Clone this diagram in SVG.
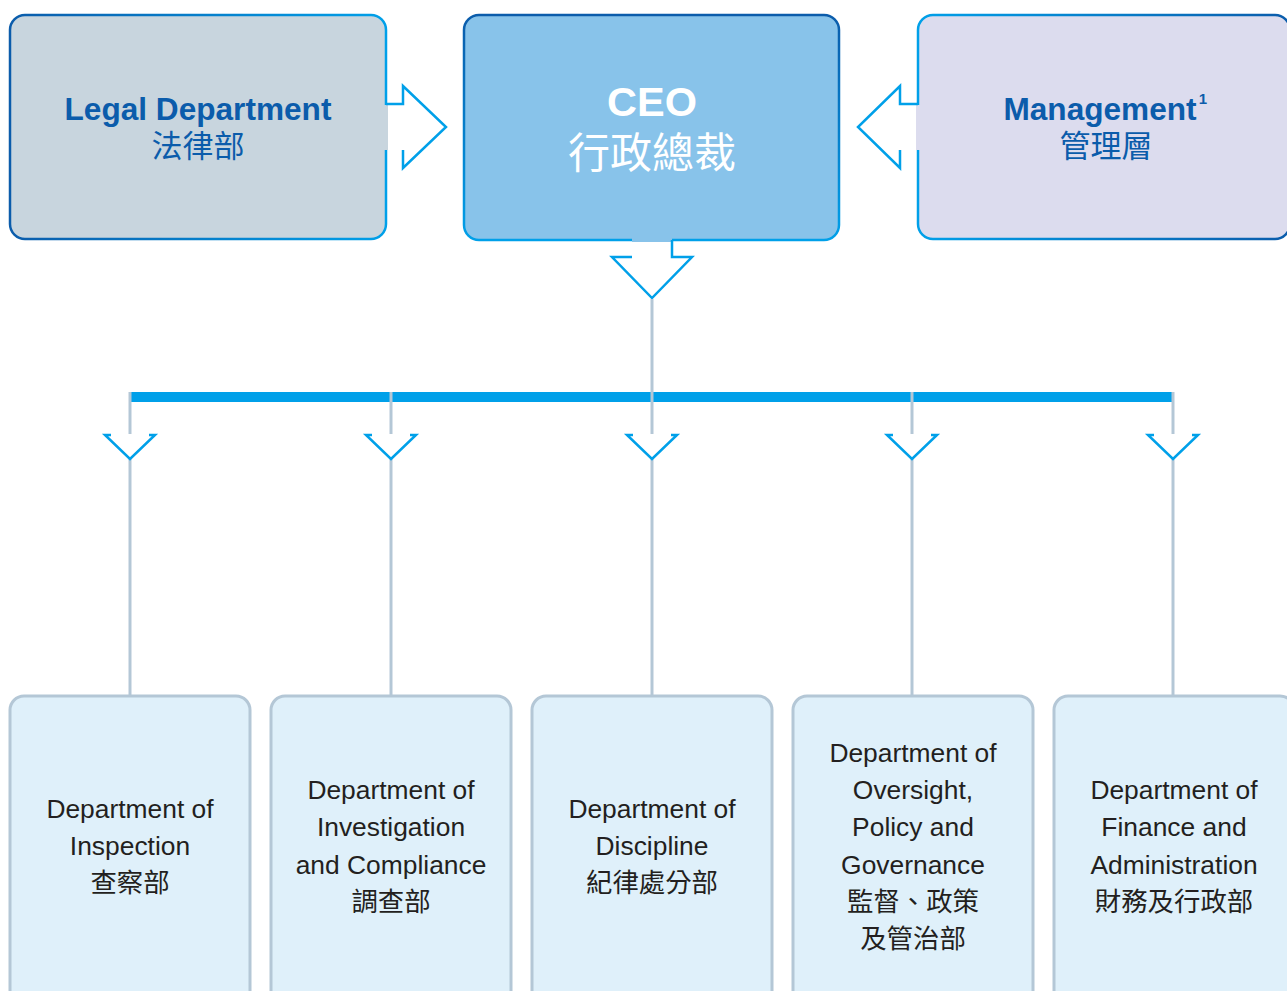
<svg xmlns="http://www.w3.org/2000/svg" width="1287" height="991" viewBox="0 0 1287 991">
<defs>
<linearGradient id="gLegal" x1="0" y1="0" x2="1" y2="0"><stop offset="0" stop-color="#0b5cab"/><stop offset="1" stop-color="#00a0e9"/></linearGradient>
<linearGradient id="gCeo" x1="0" y1="0" x2="0" y2="1"><stop offset="0" stop-color="#0b5cab"/><stop offset="1" stop-color="#00a0e9"/></linearGradient>
<linearGradient id="gMgmt" x1="0" y1="0" x2="1" y2="0"><stop offset="0" stop-color="#00a0e9"/><stop offset="1" stop-color="#0b5cab"/></linearGradient>
</defs>
<style>
.arrow{fill:none;stroke:#00a0e9;stroke-width:2.5;stroke-linejoin:miter}
.conn{fill:none;stroke:#b4c7d6;stroke-width:3}
.dept{fill:#dff0fa;stroke:#b4c7d6;stroke-width:3}
.dt{font-family:"Liberation Sans",Arial,"Noto Sans CJK TC",sans-serif;font-size:26.4px;fill:#231f20;text-anchor:middle}
.ht{font-family:"Liberation Sans",Arial,"Noto Sans CJK TC",sans-serif;font-weight:bold;font-size:31.6px;fill:#0b5cab;text-anchor:middle}
.hc{font-family:"Liberation Sans",Arial,"Noto Sans CJK TC",sans-serif;font-size:31px;fill:#0b5cab;text-anchor:middle}
</style>
<rect width="1287" height="991" fill="#ffffff"/>

<g id="legal">
<rect x="10" y="15" width="376" height="224" rx="15" fill="#c8d5de" stroke="url(#gLegal)" stroke-width="2.5"/>
<rect x="384" y="105" width="4" height="45" fill="#c8d5de"/>
<text class="ht" x="198" y="120">Legal Department</text>
<text class="hc" x="198" y="157">法律部</text>
</g>

<g id="ceo">
<rect x="464" y="15" width="375" height="225" rx="15" fill="#88c3ea" stroke="url(#gCeo)" stroke-width="2.5"/>
<rect x="632" y="238" width="40" height="4" fill="#88c3ea"/>
<text x="652" y="116" font-family="'Liberation Sans',Arial,sans-serif" font-weight="bold" font-size="41.5" fill="#ffffff" text-anchor="middle">CEO</text>
<text x="652" y="168" font-family="'Liberation Sans','Noto Sans CJK TC',sans-serif" font-size="42" fill="#ffffff" text-anchor="middle">行政總裁</text>
</g>

<g id="management">
<rect x="918" y="15" width="372" height="224" rx="15" fill="#dcdcee" stroke="url(#gMgmt)" stroke-width="2.5"/>
<rect x="916" y="105" width="4" height="45" fill="#dcdcee"/>
<text class="ht" x="1100" y="120">Management</text>
<text x="1203" y="104" font-family="'Liberation Sans',Arial,sans-serif" font-weight="bold" font-size="15" fill="#0b5cab" text-anchor="middle">1</text>
<text class="hc" x="1106" y="157">管理層</text>
</g>

<g id="connectors">
<polyline class="arrow" points="386,104 403,104 403,86 446,127 403,168 403,150"/>
<polyline class="arrow" points="918,104 900,104 900,86 858,127 900,168 900,150"/>
<polyline class="arrow" points="672,240 672,257 692,257 652,298 612,257 632,257"/>
<line class="conn" x1="652" y1="299" x2="652" y2="394"/>
<rect x="131" y="392" width="1042" height="10" fill="#00a0e9"/>
<line class="conn" x1="130" y1="392" x2="130" y2="434"/>
<line class="conn" x1="391" y1="392" x2="391" y2="434"/>
<line class="conn" x1="652" y1="392" x2="652" y2="434"/>
<line class="conn" x1="912" y1="392" x2="912" y2="434"/>
<line class="conn" x1="1173" y1="392" x2="1173" y2="434"/>
<line class="conn" x1="130" y1="459" x2="130" y2="696"/>
<line class="conn" x1="391" y1="459" x2="391" y2="696"/>
<line class="conn" x1="652" y1="459" x2="652" y2="696"/>
<line class="conn" x1="912" y1="459" x2="912" y2="696"/>
<line class="conn" x1="1173" y1="459" x2="1173" y2="696"/>
<polyline class="arrow" points="111,435 105,435 130,459 155,435 149,435"/>
<polyline class="arrow" points="372,435 366,435 391,459 416,435 410,435"/>
<polyline class="arrow" points="633,435 627,435 652,459 677,435 671,435"/>
<polyline class="arrow" points="893,435 887,435 912,459 937,435 931,435"/>
<polyline class="arrow" points="1154,435 1148,435 1173,459 1198,435 1192,435"/>
</g>

<g id="dept-inspection">
<rect class="dept" x="10" y="696" width="240" height="310" rx="14"/>
<text class="dt" x="130" y="818">Department of</text>
<text class="dt" x="130" y="855">Inspection</text>
<text class="dt" x="130" y="892">查察部</text>
</g>
<g id="dept-investigation">
<rect class="dept" x="271" y="696" width="240" height="310" rx="14"/>
<text class="dt" x="391" y="799">Department of</text>
<text class="dt" x="391" y="836">Investigation</text>
<text class="dt" x="391" y="874">and Compliance</text>
<text class="dt" x="391" y="911">調查部</text>
</g>
<g id="dept-discipline">
<rect class="dept" x="532" y="696" width="240" height="310" rx="14"/>
<text class="dt" x="652" y="818">Department of</text>
<text class="dt" x="652" y="855">Discipline</text>
<text class="dt" x="652" y="892">紀律處分部</text>
</g>
<g id="dept-oversight">
<rect class="dept" x="793" y="696" width="240" height="310" rx="14"/>
<text class="dt" x="913" y="762">Department of</text>
<text class="dt" x="913" y="799">Oversight,</text>
<text class="dt" x="913" y="836">Policy and</text>
<text class="dt" x="913" y="874">Governance</text>
<text class="dt" x="913" y="911">監督、政策</text>
<text class="dt" x="913" y="948">及管治部</text>
</g>
<g id="dept-finance">
<rect class="dept" x="1054" y="696" width="240" height="310" rx="14"/>
<text class="dt" x="1174" y="799">Department of</text>
<text class="dt" x="1174" y="836">Finance and</text>
<text class="dt" x="1174" y="874">Administration</text>
<text class="dt" x="1174" y="911">財務及行政部</text>
</g>
</svg>
